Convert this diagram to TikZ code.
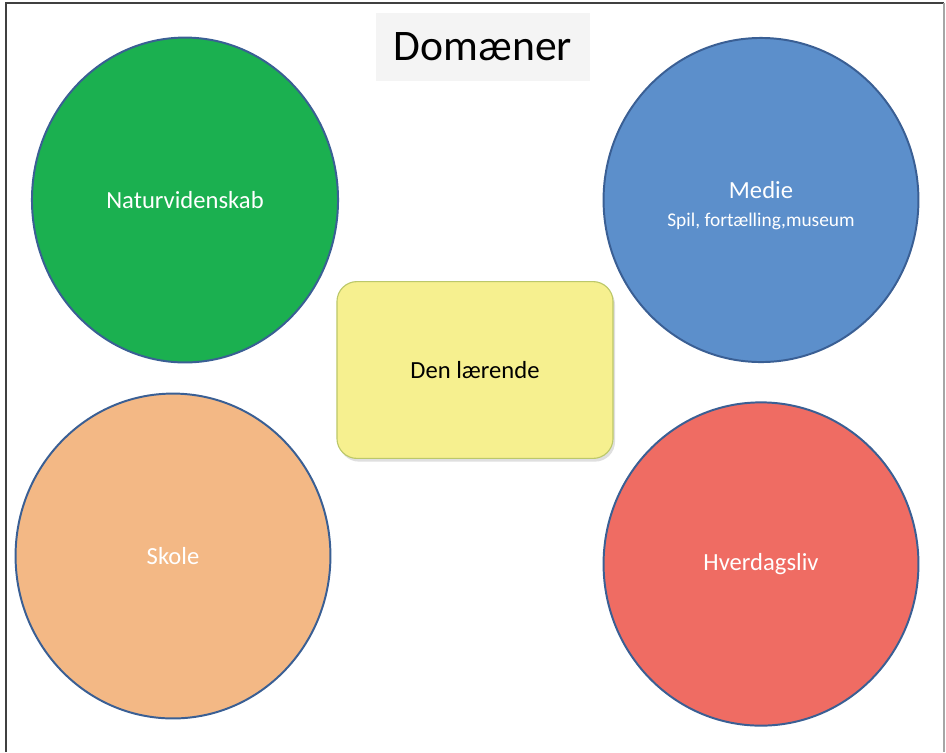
\documentclass[tikz,border=0pt]{standalone}
\usepackage{fontspec}
\setmainfont{Carlito}
\usepackage{tikz}
\usetikzlibrary{positioning, shapes.geometric, shadows}

\definecolor{rimblue}{HTML}{3A5F94}
\definecolor{natgreen}{HTML}{1BB050}
\definecolor{mediablue}{HTML}{5C8FCB}
\definecolor{schoolorange}{HTML}{F3B885}
\definecolor{dailyred}{HTML}{EF6C63}
\definecolor{learnyellow}{HTML}{F6F08F}
\definecolor{learnrim}{HTML}{BCC86A}
\definecolor{titlegray}{HTML}{F4F4F4}

\begin{document}
\begin{tikzpicture}[x=0.025cm, y=-0.025cm,
    domaincirc/.style={ellipse, draw=rimblue, line width=1.4pt, text=white,
      align=center, inner sep=0pt, font=\fontsize{17.5}{21}\selectfont},
    learner/.style={rectangle, rounded corners=0.5cm, draw=learnrim, line width=0.8pt,
      fill=learnyellow, minimum width=6.9cm, minimum height=4.42cm,
      font=\fontsize{17.5}{21}\selectfont,
      drop shadow={shadow xshift=0.05cm, shadow yshift=-0.08cm, opacity=0.25}},
    heading/.style={fill=titlegray, minimum width=5.35cm, minimum height=1.7cm,
      font=\fontsize{31}{37}\selectfont}]
  \useasboundingbox (0,0) rectangle (946,752);
  % frame
  \draw[black!75, line width=0.9pt] (6,752) -- (6,3) -- (944,3);
  \draw[black!35, line width=0.9pt] (944,3) -- (944,752);

  \node[heading] (title) at (483,47) {Domæner\hspace{0.25cm}};

  \node[domaincirc, fill=natgreen, minimum width=7.65cm, minimum height=8.12cm]
    (natur) at (185,200) {Naturvidenskab};
  \node[domaincirc, fill=mediablue, minimum width=7.87cm, minimum height=8.1cm]
    (medie) at (761,200) {\rule{0pt}{20pt}Medie\\[-1pt]
      \fontsize{13.8}{16}\selectfont Spil, fortælling,museum};
  \node[domaincirc, fill=schoolorange, minimum width=7.87cm, minimum height=8.12cm]
    (skole) at (173,556) {Skole};
  \node[domaincirc, fill=dailyred, minimum width=7.87cm, minimum height=8.08cm]
    (hverdag) at (761,564) {Hverdagsliv};

  \node[learner] (learner) at (475,370) {Den lærende};
\end{tikzpicture}
\end{document}
